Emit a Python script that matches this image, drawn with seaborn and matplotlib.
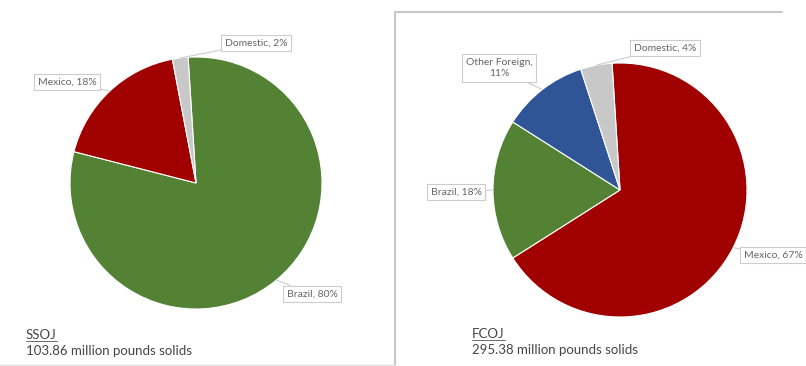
import numpy as np
import matplotlib
matplotlib.use("Agg")
import matplotlib.pyplot as plt
from matplotlib.lines import Line2D
import seaborn as sns

# ---- data ----
ssoj_categories = ["Brazil", "Mexico", "Domestic"]
ssoj_values = [80, 18, 2]
ssoj_title = "SSOJ"
ssoj_total = "103.86 million pounds solids"

fcoj_categories = ["Mexico", "Brazil", "Other Foreign", "Domestic"]
fcoj_values = [67, 18, 11, 4]
fcoj_title = "FCOJ"
fcoj_total = "295.38 million pounds solids"

# ---- style ----
sns.set_theme(style="white")
plt.rcParams["font.family"] = ["Lato", "DejaVu Sans"]

COLORS = {"Brazil": "#548235", "Mexico": "#A00000",
          "Domestic": "#C8C8C8", "Other Foreign": "#2F5597"}
LABEL_TXT = {"Other Foreign": "Other Foreign,\n{}%"}

W, H = 806, 366
fig = plt.figure(figsize=(W / 100, H / 100), dpi=100)
fig.patch.set_facecolor("white")

def px_axes(cx, cy, r):
    return fig.add_axes([(cx - r) / W, (H - cy - r) / H, 2 * r / W, 2 * r / H])

# label layout in pixel coordinates (label box centres)
layout_left = {"Domestic": (256, 43), "Mexico": (67, 82), "Brazil": (312, 294)}
layout_right = {"Domestic": (665, 48), "Other Foreign": (499, 68),
                "Brazil": (456, 192), "Mexico": (773, 255)}

def draw_pie(cx, cy, r, cats, vals, layout):
    ax = px_axes(cx, cy, r)
    wedges, _ = ax.pie(vals, colors=[COLORS[c] for c in cats], startangle=93.6,
                       counterclock=False, radius=1,
                       wedgeprops=dict(edgecolor="white", linewidth=0.8))
    ax.set_xlim(-1, 1)
    ax.set_ylim(-1, 1)
    ax.set_aspect("auto")
    ax.axis("off")
    for w, c, v in zip(wedges, cats, vals):
        mid = np.deg2rad((w.theta1 + w.theta2) / 2)
        ex, ey = np.cos(mid), np.sin(mid)
        lx, ly = layout[c]
        tx, ty = (lx - cx) / r, (cy - ly) / r
        txt = LABEL_TXT.get(c, c + ", {}%").format(v)
        ax.annotate(txt, xy=(ex, ey), xytext=(tx, ty), xycoords="data",
                    textcoords="data", ha="center", va="center",
                    fontsize=7.5, color="#666666", annotation_clip=False,
                    linespacing=1.3,
                    bbox=dict(boxstyle="square,pad=0.35", fc="white",
                              ec="#CCCCCC", lw=0.8),
                    arrowprops=dict(arrowstyle="-", color="#CCCCCC", lw=0.8,
                                    shrinkA=0, shrinkB=0))
    return ax

draw_pie(196, 183, 126, ssoj_categories, ssoj_values, layout_left)
draw_pie(620, 190, 127, fcoj_categories, fcoj_values, layout_right)

renderer = fig.canvas.get_renderer()

def caption(x, y1, y2, title, total):
    t = fig.text(x / W, 1 - y1 / H, title, fontsize=9.5, color="#454545",
                 ha="left", va="baseline")
    fig.text(x / W, 1 - y2 / H, total, fontsize=9.5, color="#454545",
             ha="left", va="baseline")
    bb = t.get_window_extent(renderer)
    yline = (1 - y1 / H) - 2.0 / H
    fig.add_artist(Line2D([bb.x0 / W, bb.x1 / W], [yline, yline],
                          transform=fig.transFigure, color="#555555", lw=0.6))

caption(26, 339, 355, ssoj_title, ssoj_total)
caption(472, 338, 354, fcoj_title, fcoj_total)

# panel frame lines
frame_col = "#C8C8C8"
fig.add_artist(Line2D([395 / W, 395 / W], [1 - 12 / H, 0], transform=fig.transFigure,
                      color=frame_col, lw=1.5))
fig.add_artist(Line2D([395 / W, 782 / W], [1 - 12 / H, 1 - 12 / H],
                      transform=fig.transFigure, color=frame_col, lw=1.5))
fig.add_artist(Line2D([0, 395 / W], [1 - 365 / H, 1 - 365 / H],
                      transform=fig.transFigure, color="#E0E0E0", lw=1.0))

fig.savefig("out.png", dpi=100, facecolor="white")
